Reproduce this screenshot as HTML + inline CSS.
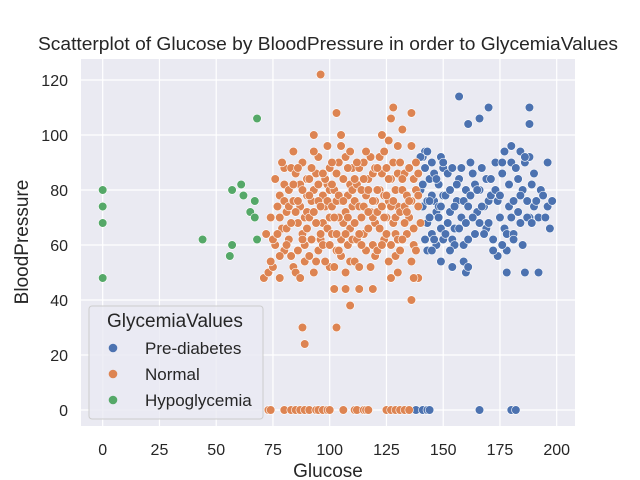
<!DOCTYPE html>
<html><head><meta charset="utf-8"><style>
body{margin:0;background:#fff;}
svg{display:block;font-family:"Liberation Sans",Arial,sans-serif;}
</style></head><body>
<svg id="chart" width="640" height="480" viewBox="0 0 640 480">
<rect x="81" y="59" width="494" height="367" fill="#eaeaf2"/>
<g id="grid"></g>
<g id="marks"></g>
<g id="axes"></g>
<text x="38" y="50" font-size="18" textLength="580" lengthAdjust="spacingAndGlyphs" fill="#262626">Scatterplot of Glucose by BloodPressure in order to GlycemiaValues</text>
<text x="328" y="477" text-anchor="middle" font-size="19" fill="#262626">Glucose</text>
<text transform="translate(28,242) rotate(-90)" text-anchor="middle" font-size="19" fill="#262626">BloodPressure</text>
<g>
<rect x="89" y="306" width="174" height="113" rx="3" fill="#eaeaf2" fill-opacity="0.8" stroke="#cccccc"/>
<text x="107" y="327" font-size="19" fill="#262626">GlycemiaValues</text>
<circle cx="113" cy="348" r="4.3" fill="#4c72b0"/><text x="145" y="354" font-size="17" fill="#262626">Pre-diabetes</text>
<circle cx="113" cy="374" r="4.3" fill="#dd8452"/><text x="145" y="380" font-size="17" fill="#262626">Normal</text>
<circle cx="113" cy="400" r="4.3" fill="#55a868"/><text x="145" y="406" font-size="17" fill="#262626">Hypoglycemia</text>
</g>
</svg>
<script>
const xTicks=[0,25,50,75,100,125,150,175,200];
const yTicks=[0,20,40,60,80,100,120];
const hypoPoints=[[0,80],[0,74],[0,68],[0,48],[44,62],[56,56],[57,60],[57,80],[61,82],[62,78],[65,72],[67,70],[68,106],[68,62],[67,76]];
const normalPoints=[[96,122],[103,108],[128,110],[136,108],[127,106],[132,102],[93,100],[105,100],[123,100],[136,40],[109,38],[88,30],[103,30],[89,24],[102,44],[107,44],[113,44],[119,44],[127,48],[139,48],[71,48],[78,48],
[73,50],[75,52],[76,60],[72,64],[74,70],[78,78],[76,84],[80,82],[77,74],[79,66],[80,58],[75,62],[78,70],[80,88],[79,90],[74,54],[80,76],[78,56],[77,64],
[81,72],[82,80],[83,88],[84,94],[85,86],[86,68],[87,74],[88,64],[89,60],[90,78],[82,62],[83,56],[84,52],[85,50],[86,58],[87,82],[88,90],[89,70],[90,66],[81,66],[82,74],[84,76],[86,76],[88,80],[90,84],[89,54],[87,48],[83,68],[85,72],[90,72],[81,60],[88,62],[86,88],[84,82],
[91,70],[92,76],[93,80],[94,86],[95,92],[96,62],[97,68],[98,74],[99,82],[100,88],[91,56],[92,62],[93,50],[94,54],[95,58],[96,64],[97,78],[98,84],[99,76],[100,70],[91,84],[93,72],[95,76],[97,60],[99,66],[100,52],[92,88],[94,68],[96,74],[98,54],[100,60],[91,78],[95,82],[99,96],[93,94],[100,80],[97,86],
[101,74],[102,80],[103,86],[104,90],[105,62],[106,68],[107,72],[108,78],[109,82],[110,88],[101,64],[102,52],[103,58],[104,70],[105,76],[106,84],[107,92],[108,60],[109,66],[110,74],[101,90],[103,76],[105,56],[107,50],[109,54],[110,62],[102,70],[104,78],[106,76],[108,88],[110,80],[101,82],[104,58],[107,64],[109,94],[105,96],[103,64],[108,70],
[111,76],[112,82],[113,88],[114,70],[115,64],[116,78],[117,84],[118,92],[119,60],[120,68],[111,54],[112,62],[113,74],[114,80],[115,90],[116,58],[117,66],[118,72],[119,86],[120,76],[111,68],[113,52],[115,74],[117,80],[119,76],[120,88],[112,90],[114,60],[116,94],[118,52],[120,56],[111,84],[115,84],[119,70],[113,64],[117,72],
[121,72],[122,80],[123,86],[124,62],[125,70],[126,76],[127,84],[128,90],[129,64],[130,74],[121,58],[122,66],[123,74],[124,78],[125,88],[126,54],[127,60],[128,68],[129,80],[130,86],[121,88],[123,60],[125,78],[127,74],[129,70],[130,62],[122,92],[124,70],[126,84],[128,76],[130,96],[121,80],[125,64],[129,56],[126,98],[124,94],
[131,72],[132,80],[133,86],[134,64],[135,70],[136,76],[137,84],[138,90],[139,74],[140,68],[131,58],[132,62],[133,74],[134,78],[135,88],[136,54],[137,66],[138,80],[139,86],[131,90],[133,68],[135,76],[137,60],[132,84],[134,72],[136,96],[138,58],[139,78],[130,50],[137,48],
[73,0],[74,0],[80,0],[83,0],[85,0],[87,0],[89,0],[91,0],[94,0],[95,0],[97,0],[99,0],[100,0],[106,0],[111,0],[112,0],[115,0],[116,0],[117,0],[125,0],[127,0],[129,0],[131,0],[133,0],[135,0]];
const preDiabetesPoints=[[140,80],[141,74],[142,88],[143,68],[144,84],[145,90],[146,76],[147,72],[148,82],[149,66],[150,88],[141,92],[142,62],[143,76],[144,70],[145,78],[146,86],[147,60],[148,74],[149,92],[150,78],[141,82],[143,58],[145,64],[147,84],[149,74],[142,94],[144,76],[146,62],[148,70],[150,62],
[151,78],[152,86],[153,72],[154,88],[155,66],[156,76],[157,84],[158,70],[159,60],[160,80],[151,64],[152,68],[153,80],[154,62],[155,74],[156,82],[157,66],[158,88],[159,76],[160,68],[161,74],[162,78],[163,86],[164,64],[165,72],[166,80],[167,88],[168,74],[169,66],[170,76],[161,62],[162,90],[163,70],[164,82],[165,80],[166,68],[167,74],[168,64],[169,84],[170,68],[171,78],[172,62],[173,90],[174,76],[175,70],[176,86],[177,66],[178,58],[179,82],[180,90],[171,84],[173,80],[175,78],[177,94],[179,74],[180,70],[176,60],[178,64],[181,76],[182,88],[183,72],[184,68],[185,80],[186,90],[187,76],[188,70],[189,82],[190,74],[181,64],[183,84],[185,60],[187,70],[189,68],[190,86],[191,76],[192,70],[193,80],[194,78],[195,70],[196,74],[197,66],[198,76],[196,90],[188,92],[184,78],[181,62],[174,56],[172,58],[155,60],[145,58],[149,54],[153,58],
[157,114],[170,110],[188,110],[188,104],[161,104],[166,106],[180,96],[184,94],[186,92],[176,90],[150,90],[140,92],[143,94],
[154,52],[160,50],[178,50],[186,50],[192,50],[159,54],[161,52],
[138,0],[141,0],[143,0],[144,0],[166,0],[180,0],[182,0]];

const NS="http://www.w3.org/2000/svg";
function xScale(v){return 102.7+v*2.27;}
function yScale(v){return 410-v*2.75;}
const grid=document.getElementById('grid'),axes=document.getElementById('axes'),marks=document.getElementById('marks');
xTicks.forEach(t=>{
  const l=document.createElementNS(NS,'line');
  
  
  l.setAttribute('x1',xScale(t));l.setAttribute('x2',xScale(t));l.setAttribute('y1',59);l.setAttribute('y2',426);
  l.setAttribute('stroke','#fff');l.setAttribute('stroke-width','1.2');grid.appendChild(l);
  const tx=document.createElementNS(NS,'text');
  
  
  tx.setAttribute('x',xScale(t));tx.setAttribute('y',455);tx.setAttribute('text-anchor','middle');tx.setAttribute('font-size','16');tx.setAttribute('fill','#262626');
  tx.textContent=t;axes.appendChild(tx);
});
yTicks.forEach(t=>{
  const l=document.createElementNS(NS,'line');
  
  
  l.setAttribute('x1',81);l.setAttribute('x2',575);l.setAttribute('y1',yScale(t));l.setAttribute('y2',yScale(t));
  l.setAttribute('stroke','#fff');l.setAttribute('stroke-width','1.2');grid.appendChild(l);
  const tx=document.createElementNS(NS,'text');
  
  
  tx.setAttribute('x',68);tx.setAttribute('y',yScale(t)+6);tx.setAttribute('text-anchor','end');tx.setAttribute('font-size','16');tx.setAttribute('fill','#262626');
  tx.textContent=t;axes.appendChild(tx);
});
function draw(pts,color,name){
  pts.forEach(p=>{
    const c=document.createElementNS(NS,'circle');
    
    
    c.setAttribute('cx',xScale(p[0]));c.setAttribute('cy',yScale(p[1]));c.setAttribute('r','4.3');
    c.setAttribute('fill',color);c.setAttribute('stroke','#fff');c.setAttribute('stroke-width','0.6');
    marks.appendChild(c);
  });
}
draw(preDiabetesPoints,'#4c72b0','point-prediabetes');
draw(normalPoints,'#dd8452','point-normal');
draw(hypoPoints,'#55a868','point-hypoglycemia');
</script>
</body></html>
